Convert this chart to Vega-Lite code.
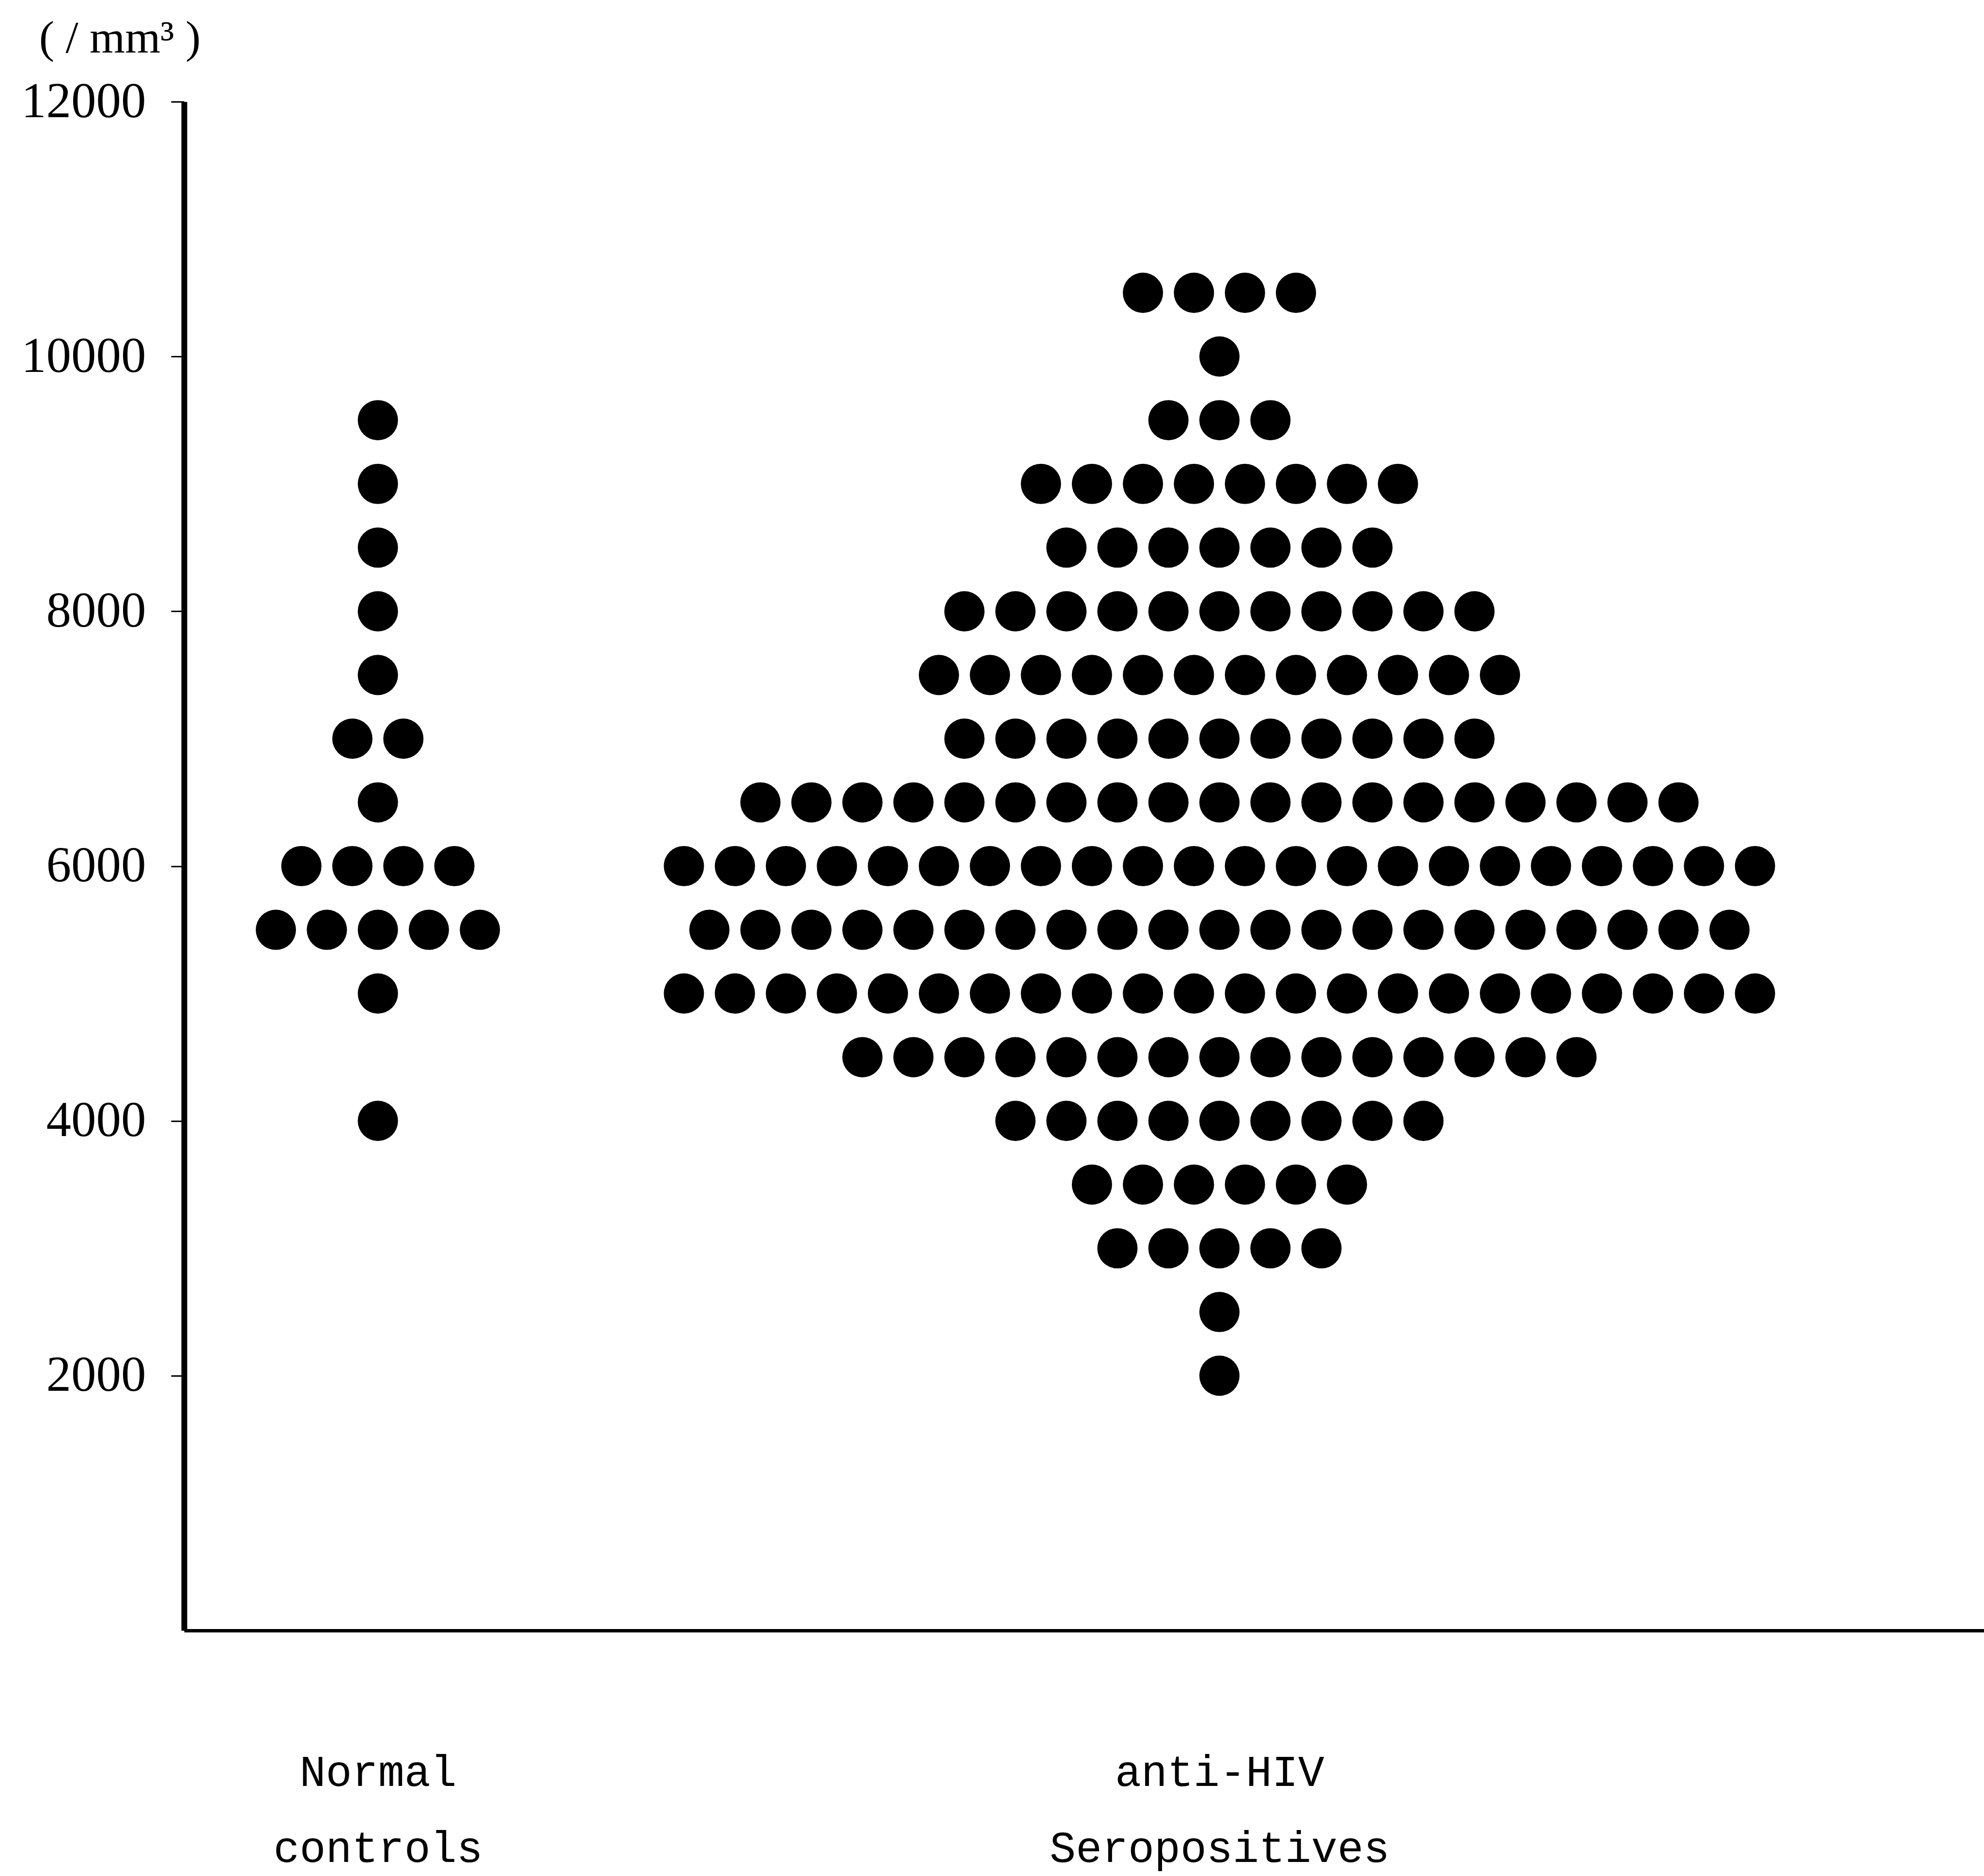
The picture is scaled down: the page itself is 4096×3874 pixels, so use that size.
{
  "$schema": "https://vega.github.io/schema/vega-lite/v6.json",
  "autosize": {"type": "none"},
  "width": 3716,
  "height": 3157,
  "padding": {"left": 380, "top": 210, "right": 0, "bottom": 507},
  "background": "white",
  "config": {"view": {"stroke": null}},
  "data": {
    "values": [
      {"group": "Normal controls", "value": 9500, "col": 0},
      {"group": "Normal controls", "value": 9000, "col": 0},
      {"group": "Normal controls", "value": 8500, "col": 0},
      {"group": "Normal controls", "value": 8000, "col": 0},
      {"group": "Normal controls", "value": 7500, "col": 0},
      {"group": "Normal controls", "value": 7000, "col": -0.5},
      {"group": "Normal controls", "value": 7000, "col": 0.5},
      {"group": "Normal controls", "value": 6500, "col": 0},
      {"group": "Normal controls", "value": 6000, "col": -1.5},
      {"group": "Normal controls", "value": 6000, "col": -0.5},
      {"group": "Normal controls", "value": 6000, "col": 0.5},
      {"group": "Normal controls", "value": 6000, "col": 1.5},
      {"group": "Normal controls", "value": 5500, "col": -2},
      {"group": "Normal controls", "value": 5500, "col": -1},
      {"group": "Normal controls", "value": 5500, "col": 0},
      {"group": "Normal controls", "value": 5500, "col": 1},
      {"group": "Normal controls", "value": 5500, "col": 2},
      {"group": "Normal controls", "value": 5000, "col": 0},
      {"group": "Normal controls", "value": 4000, "col": 0},

      {"group": "anti-HIV Seropositives", "value": 10500, "col": 15},
      {"group": "anti-HIV Seropositives", "value": 10500, "col": 16},
      {"group": "anti-HIV Seropositives", "value": 10500, "col": 17},
      {"group": "anti-HIV Seropositives", "value": 10500, "col": 18},
      {"group": "anti-HIV Seropositives", "value": 10000, "col": 16.5},
      {"group": "anti-HIV Seropositives", "value": 9500, "col": 15.5},
      {"group": "anti-HIV Seropositives", "value": 9500, "col": 16.5},
      {"group": "anti-HIV Seropositives", "value": 9500, "col": 17.5},
      {"group": "anti-HIV Seropositives", "value": 9000, "col": 13},
      {"group": "anti-HIV Seropositives", "value": 9000, "col": 14},
      {"group": "anti-HIV Seropositives", "value": 9000, "col": 15},
      {"group": "anti-HIV Seropositives", "value": 9000, "col": 16},
      {"group": "anti-HIV Seropositives", "value": 9000, "col": 17},
      {"group": "anti-HIV Seropositives", "value": 9000, "col": 18},
      {"group": "anti-HIV Seropositives", "value": 9000, "col": 19},
      {"group": "anti-HIV Seropositives", "value": 9000, "col": 20},
      {"group": "anti-HIV Seropositives", "value": 8500, "col": 13.5},
      {"group": "anti-HIV Seropositives", "value": 8500, "col": 14.5},
      {"group": "anti-HIV Seropositives", "value": 8500, "col": 15.5},
      {"group": "anti-HIV Seropositives", "value": 8500, "col": 16.5},
      {"group": "anti-HIV Seropositives", "value": 8500, "col": 17.5},
      {"group": "anti-HIV Seropositives", "value": 8500, "col": 18.5},
      {"group": "anti-HIV Seropositives", "value": 8500, "col": 19.5},
      {"group": "anti-HIV Seropositives", "value": 8000, "col": 11.5},
      {"group": "anti-HIV Seropositives", "value": 8000, "col": 12.5},
      {"group": "anti-HIV Seropositives", "value": 8000, "col": 13.5},
      {"group": "anti-HIV Seropositives", "value": 8000, "col": 14.5},
      {"group": "anti-HIV Seropositives", "value": 8000, "col": 15.5},
      {"group": "anti-HIV Seropositives", "value": 8000, "col": 16.5},
      {"group": "anti-HIV Seropositives", "value": 8000, "col": 17.5},
      {"group": "anti-HIV Seropositives", "value": 8000, "col": 18.5},
      {"group": "anti-HIV Seropositives", "value": 8000, "col": 19.5},
      {"group": "anti-HIV Seropositives", "value": 8000, "col": 20.5},
      {"group": "anti-HIV Seropositives", "value": 8000, "col": 21.5},
      {"group": "anti-HIV Seropositives", "value": 7500, "col": 11},
      {"group": "anti-HIV Seropositives", "value": 7500, "col": 12},
      {"group": "anti-HIV Seropositives", "value": 7500, "col": 13},
      {"group": "anti-HIV Seropositives", "value": 7500, "col": 14},
      {"group": "anti-HIV Seropositives", "value": 7500, "col": 15},
      {"group": "anti-HIV Seropositives", "value": 7500, "col": 16},
      {"group": "anti-HIV Seropositives", "value": 7500, "col": 17},
      {"group": "anti-HIV Seropositives", "value": 7500, "col": 18},
      {"group": "anti-HIV Seropositives", "value": 7500, "col": 19},
      {"group": "anti-HIV Seropositives", "value": 7500, "col": 20},
      {"group": "anti-HIV Seropositives", "value": 7500, "col": 21},
      {"group": "anti-HIV Seropositives", "value": 7500, "col": 22},
      {"group": "anti-HIV Seropositives", "value": 7000, "col": 11.5},
      {"group": "anti-HIV Seropositives", "value": 7000, "col": 12.5},
      {"group": "anti-HIV Seropositives", "value": 7000, "col": 13.5},
      {"group": "anti-HIV Seropositives", "value": 7000, "col": 14.5},
      {"group": "anti-HIV Seropositives", "value": 7000, "col": 15.5},
      {"group": "anti-HIV Seropositives", "value": 7000, "col": 16.5},
      {"group": "anti-HIV Seropositives", "value": 7000, "col": 17.5},
      {"group": "anti-HIV Seropositives", "value": 7000, "col": 18.5},
      {"group": "anti-HIV Seropositives", "value": 7000, "col": 19.5},
      {"group": "anti-HIV Seropositives", "value": 7000, "col": 20.5},
      {"group": "anti-HIV Seropositives", "value": 7000, "col": 21.5},
      {"group": "anti-HIV Seropositives", "value": 6500, "col": 7.5},
      {"group": "anti-HIV Seropositives", "value": 6500, "col": 8.5},
      {"group": "anti-HIV Seropositives", "value": 6500, "col": 9.5},
      {"group": "anti-HIV Seropositives", "value": 6500, "col": 10.5},
      {"group": "anti-HIV Seropositives", "value": 6500, "col": 11.5},
      {"group": "anti-HIV Seropositives", "value": 6500, "col": 12.5},
      {"group": "anti-HIV Seropositives", "value": 6500, "col": 13.5},
      {"group": "anti-HIV Seropositives", "value": 6500, "col": 14.5},
      {"group": "anti-HIV Seropositives", "value": 6500, "col": 15.5},
      {"group": "anti-HIV Seropositives", "value": 6500, "col": 16.5},
      {"group": "anti-HIV Seropositives", "value": 6500, "col": 17.5},
      {"group": "anti-HIV Seropositives", "value": 6500, "col": 18.5},
      {"group": "anti-HIV Seropositives", "value": 6500, "col": 19.5},
      {"group": "anti-HIV Seropositives", "value": 6500, "col": 20.5},
      {"group": "anti-HIV Seropositives", "value": 6500, "col": 21.5},
      {"group": "anti-HIV Seropositives", "value": 6500, "col": 22.5},
      {"group": "anti-HIV Seropositives", "value": 6500, "col": 23.5},
      {"group": "anti-HIV Seropositives", "value": 6500, "col": 24.5},
      {"group": "anti-HIV Seropositives", "value": 6500, "col": 25.5},
      {"group": "anti-HIV Seropositives", "value": 6000, "col": 6},
      {"group": "anti-HIV Seropositives", "value": 6000, "col": 7},
      {"group": "anti-HIV Seropositives", "value": 6000, "col": 8},
      {"group": "anti-HIV Seropositives", "value": 6000, "col": 9},
      {"group": "anti-HIV Seropositives", "value": 6000, "col": 10},
      {"group": "anti-HIV Seropositives", "value": 6000, "col": 11},
      {"group": "anti-HIV Seropositives", "value": 6000, "col": 12},
      {"group": "anti-HIV Seropositives", "value": 6000, "col": 13},
      {"group": "anti-HIV Seropositives", "value": 6000, "col": 14},
      {"group": "anti-HIV Seropositives", "value": 6000, "col": 15},
      {"group": "anti-HIV Seropositives", "value": 6000, "col": 16},
      {"group": "anti-HIV Seropositives", "value": 6000, "col": 17},
      {"group": "anti-HIV Seropositives", "value": 6000, "col": 18},
      {"group": "anti-HIV Seropositives", "value": 6000, "col": 19},
      {"group": "anti-HIV Seropositives", "value": 6000, "col": 20},
      {"group": "anti-HIV Seropositives", "value": 6000, "col": 21},
      {"group": "anti-HIV Seropositives", "value": 6000, "col": 22},
      {"group": "anti-HIV Seropositives", "value": 6000, "col": 23},
      {"group": "anti-HIV Seropositives", "value": 6000, "col": 24},
      {"group": "anti-HIV Seropositives", "value": 6000, "col": 25},
      {"group": "anti-HIV Seropositives", "value": 6000, "col": 26},
      {"group": "anti-HIV Seropositives", "value": 6000, "col": 27},
      {"group": "anti-HIV Seropositives", "value": 5500, "col": 6.5},
      {"group": "anti-HIV Seropositives", "value": 5500, "col": 7.5},
      {"group": "anti-HIV Seropositives", "value": 5500, "col": 8.5},
      {"group": "anti-HIV Seropositives", "value": 5500, "col": 9.5},
      {"group": "anti-HIV Seropositives", "value": 5500, "col": 10.5},
      {"group": "anti-HIV Seropositives", "value": 5500, "col": 11.5},
      {"group": "anti-HIV Seropositives", "value": 5500, "col": 12.5},
      {"group": "anti-HIV Seropositives", "value": 5500, "col": 13.5},
      {"group": "anti-HIV Seropositives", "value": 5500, "col": 14.5},
      {"group": "anti-HIV Seropositives", "value": 5500, "col": 15.5},
      {"group": "anti-HIV Seropositives", "value": 5500, "col": 16.5},
      {"group": "anti-HIV Seropositives", "value": 5500, "col": 17.5},
      {"group": "anti-HIV Seropositives", "value": 5500, "col": 18.5},
      {"group": "anti-HIV Seropositives", "value": 5500, "col": 19.5},
      {"group": "anti-HIV Seropositives", "value": 5500, "col": 20.5},
      {"group": "anti-HIV Seropositives", "value": 5500, "col": 21.5},
      {"group": "anti-HIV Seropositives", "value": 5500, "col": 22.5},
      {"group": "anti-HIV Seropositives", "value": 5500, "col": 23.5},
      {"group": "anti-HIV Seropositives", "value": 5500, "col": 24.5},
      {"group": "anti-HIV Seropositives", "value": 5500, "col": 25.5},
      {"group": "anti-HIV Seropositives", "value": 5500, "col": 26.5},
      {"group": "anti-HIV Seropositives", "value": 5000, "col": 6},
      {"group": "anti-HIV Seropositives", "value": 5000, "col": 7},
      {"group": "anti-HIV Seropositives", "value": 5000, "col": 8},
      {"group": "anti-HIV Seropositives", "value": 5000, "col": 9},
      {"group": "anti-HIV Seropositives", "value": 5000, "col": 10},
      {"group": "anti-HIV Seropositives", "value": 5000, "col": 11},
      {"group": "anti-HIV Seropositives", "value": 5000, "col": 12},
      {"group": "anti-HIV Seropositives", "value": 5000, "col": 13},
      {"group": "anti-HIV Seropositives", "value": 5000, "col": 14},
      {"group": "anti-HIV Seropositives", "value": 5000, "col": 15},
      {"group": "anti-HIV Seropositives", "value": 5000, "col": 16},
      {"group": "anti-HIV Seropositives", "value": 5000, "col": 17},
      {"group": "anti-HIV Seropositives", "value": 5000, "col": 18},
      {"group": "anti-HIV Seropositives", "value": 5000, "col": 19},
      {"group": "anti-HIV Seropositives", "value": 5000, "col": 20},
      {"group": "anti-HIV Seropositives", "value": 5000, "col": 21},
      {"group": "anti-HIV Seropositives", "value": 5000, "col": 22},
      {"group": "anti-HIV Seropositives", "value": 5000, "col": 23},
      {"group": "anti-HIV Seropositives", "value": 5000, "col": 24},
      {"group": "anti-HIV Seropositives", "value": 5000, "col": 25},
      {"group": "anti-HIV Seropositives", "value": 5000, "col": 26},
      {"group": "anti-HIV Seropositives", "value": 5000, "col": 27},
      {"group": "anti-HIV Seropositives", "value": 4500, "col": 9.5},
      {"group": "anti-HIV Seropositives", "value": 4500, "col": 10.5},
      {"group": "anti-HIV Seropositives", "value": 4500, "col": 11.5},
      {"group": "anti-HIV Seropositives", "value": 4500, "col": 12.5},
      {"group": "anti-HIV Seropositives", "value": 4500, "col": 13.5},
      {"group": "anti-HIV Seropositives", "value": 4500, "col": 14.5},
      {"group": "anti-HIV Seropositives", "value": 4500, "col": 15.5},
      {"group": "anti-HIV Seropositives", "value": 4500, "col": 16.5},
      {"group": "anti-HIV Seropositives", "value": 4500, "col": 17.5},
      {"group": "anti-HIV Seropositives", "value": 4500, "col": 18.5},
      {"group": "anti-HIV Seropositives", "value": 4500, "col": 19.5},
      {"group": "anti-HIV Seropositives", "value": 4500, "col": 20.5},
      {"group": "anti-HIV Seropositives", "value": 4500, "col": 21.5},
      {"group": "anti-HIV Seropositives", "value": 4500, "col": 22.5},
      {"group": "anti-HIV Seropositives", "value": 4500, "col": 23.5},
      {"group": "anti-HIV Seropositives", "value": 4000, "col": 12.5},
      {"group": "anti-HIV Seropositives", "value": 4000, "col": 13.5},
      {"group": "anti-HIV Seropositives", "value": 4000, "col": 14.5},
      {"group": "anti-HIV Seropositives", "value": 4000, "col": 15.5},
      {"group": "anti-HIV Seropositives", "value": 4000, "col": 16.5},
      {"group": "anti-HIV Seropositives", "value": 4000, "col": 17.5},
      {"group": "anti-HIV Seropositives", "value": 4000, "col": 18.5},
      {"group": "anti-HIV Seropositives", "value": 4000, "col": 19.5},
      {"group": "anti-HIV Seropositives", "value": 4000, "col": 20.5},
      {"group": "anti-HIV Seropositives", "value": 3500, "col": 14},
      {"group": "anti-HIV Seropositives", "value": 3500, "col": 15},
      {"group": "anti-HIV Seropositives", "value": 3500, "col": 16},
      {"group": "anti-HIV Seropositives", "value": 3500, "col": 17},
      {"group": "anti-HIV Seropositives", "value": 3500, "col": 18},
      {"group": "anti-HIV Seropositives", "value": 3500, "col": 19},
      {"group": "anti-HIV Seropositives", "value": 3000, "col": 14.5},
      {"group": "anti-HIV Seropositives", "value": 3000, "col": 15.5},
      {"group": "anti-HIV Seropositives", "value": 3000, "col": 16.5},
      {"group": "anti-HIV Seropositives", "value": 3000, "col": 17.5},
      {"group": "anti-HIV Seropositives", "value": 3000, "col": 18.5},
      {"group": "anti-HIV Seropositives", "value": 2500, "col": 16.5},
      {"group": "anti-HIV Seropositives", "value": 2000, "col": 16.5}
    ]
  },
  "mark": {"type": "circle", "color": "black", "opacity": 1, "size": 6900},
  "encoding": {
    "x": {
      "field": "col",
      "type": "quantitative",
      "scale": {"domain": [-3.8, 31.49], "nice": false, "zero": false},
      "axis": {
        "title": null,
        "values": [0, 16.5],
        "labelExpr": "datum.value < 8 ? ['Normal', 'controls'] : ['anti-HIV', 'Seropositives']",
        "labelFont": "Liberation Mono",
        "labelFontSize": 90,
        "labelColor": "black",
        "labelAlign": "center",
        "labelBaseline": "alphabetic",
        "labelLineHeight": 157,
        "labelPadding": 320,
        "labelLimit": 3000,
        "labelOverlap": false,
        "labelBound": false,
        "labelFlush": false,
        "ticks": false,
        "tickSize": 0,
        "grid": false,
        "domainColor": "black",
        "domainWidth": 7
      }
    },
    "y": {
      "field": "value",
      "type": "quantitative",
      "scale": {"domain": [0, 12000], "nice": false},
      "axis": {
        "title": "( / mm³ )",
        "titleAngle": 0,
        "titleAlign": "center",
        "titleBaseline": "middle",
        "titleX": -133,
        "titleY": -131,
        "titleFont": "Liberation Serif",
        "titleFontSize": 94,
        "titleFontWeight": "normal",
        "titleColor": "black",
        "titleLimit": 3000,
        "values": [2000, 4000, 6000, 8000, 10000, 12000],
        "format": "d",
        "labelFont": "Liberation Serif",
        "labelFontSize": 103,
        "labelColor": "black",
        "labelPadding": 52,
        "labelLimit": 3000,
        "labelOverlap": false,
        "labelBound": false,
        "labelFlush": false,
        "ticks": true,
        "tickSize": 27,
        "tickWidth": 3,
        "tickColor": "black",
        "grid": false,
        "domainColor": "black",
        "domainWidth": 12
      }
    }
  }
}
